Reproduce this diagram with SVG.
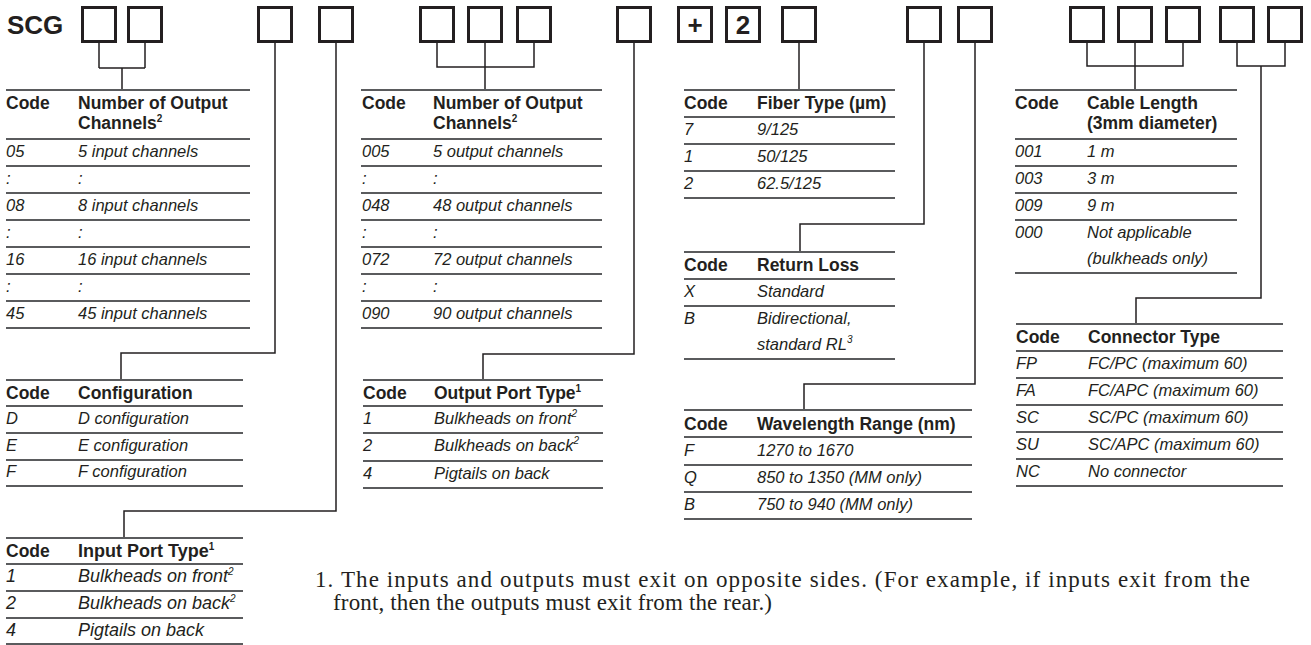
<svg xmlns="http://www.w3.org/2000/svg" width="1311" height="645" viewBox="0 0 1311 645">
<style>
.bx{fill:none;stroke:#231f20;stroke-width:3}
.cn{fill:none;stroke:#231f20;stroke-width:1.5}
.tl{stroke:#5a5b5d;stroke-width:2}
text{font-family:"Liberation Sans",Arial,sans-serif;fill:#231f20}
.h{font-weight:bold;font-size:17.5px}
.b{font-style:italic;font-size:16.5px}
.bl{font-style:italic;font-size:18px}
.hl{font-weight:bold;font-size:18px}
.sup{font-size:10px}
.big{font-weight:bold;font-size:26px}
.fn{font-family:"Liberation Serif","Times New Roman",serif;font-size:23px}
</style>
<rect width="1311" height="645" fill="#fff"/>
<g id="code-boxes">
<text class="big" x="7" y="34">SCG</text>
<rect class="bx" x="82.5" y="7.5" width="33" height="34"/>
<rect class="bx" x="128.5" y="7.5" width="33" height="34"/>
<rect class="bx" x="258.5" y="7.5" width="33" height="34"/>
<rect class="bx" x="319.5" y="7.5" width="33" height="34"/>
<rect class="bx" x="420.5" y="7.5" width="33" height="34"/>
<rect class="bx" x="468.5" y="7.5" width="33" height="34"/>
<rect class="bx" x="517.5" y="7.5" width="33" height="34"/>
<rect class="bx" x="617.5" y="7.5" width="33" height="34"/>
<rect class="bx" x="678.5" y="7.5" width="33" height="34"/>
<text class="big" x="695" y="34" text-anchor="middle">+</text>
<rect class="bx" x="726.5" y="7.5" width="33" height="34"/>
<text class="big" x="743" y="34" text-anchor="middle">2</text>
<rect class="bx" x="782.5" y="7.5" width="33" height="34"/>
<rect class="bx" x="907.5" y="7.5" width="33" height="34"/>
<rect class="bx" x="958.5" y="7.5" width="33" height="34"/>
<rect class="bx" x="1070.5" y="7.5" width="33" height="34"/>
<rect class="bx" x="1118.5" y="7.5" width="33" height="34"/>
<rect class="bx" x="1166.5" y="7.5" width="33" height="34"/>
<rect class="bx" x="1220.5" y="7.5" width="33" height="34"/>
<rect class="bx" x="1268.5" y="7.5" width="33" height="34"/>
</g>
<g id="connectors">
<path class="cn" d="M99,43V68M145,43V68M99,68H145M122,68V90"/>
<path class="cn" d="M275,43V353H121V380"/>
<path class="cn" d="M336,43V511H124V538"/>
<path class="cn" d="M437,43V67H534V43M485,43V90"/>
<path class="cn" d="M634,43V354H483V380"/>
<path class="cn" d="M799,43V90"/>
<path class="cn" d="M924,43V224H800V252"/>
<path class="cn" d="M975,43V384H804V410"/>
<path class="cn" d="M1087,43V66H1183V43M1135,43V90"/>
<path class="cn" d="M1237,43V66H1285V43M1261,66V298H1136V324"/>
</g>
<g id="input-channels">
<path class="tl" d="M6,90H250M6,139H250M6,166H250M6,193H250M6,220H250M6,247H250M6,274H250M6,301H250M6,328H250"/>
<text class="h" x="6" y="109">Code</text>
<text class="h" x="78" y="109">Number of Output</text>
<text class="h" x="78" y="129">Channels<tspan class="sup" dy="-7">2</tspan></text>
<text class="b" x="6" y="157">05</text><text class="b" x="78" y="157">5 input channels</text>
<text class="b" x="6" y="184">:</text><text class="b" x="78" y="184">:</text>
<text class="b" x="6" y="211">08</text><text class="b" x="78" y="211">8 input channels</text>
<text class="b" x="6" y="238">:</text><text class="b" x="78" y="238">:</text>
<text class="b" x="6" y="265">16</text><text class="b" x="78" y="265">16 input channels</text>
<text class="b" x="6" y="292">:</text><text class="b" x="78" y="292">:</text>
<text class="b" x="6" y="319">45</text><text class="b" x="78" y="319">45 input channels</text>
</g>
<g id="output-channels">
<path class="tl" d="M361,90H602M361,139H602M361,166H602M361,193H602M361,220H602M361,247H602M361,274H602M361,301H602M361,328H602"/>
<text class="h" x="362" y="109">Code</text>
<text class="h" x="433" y="109">Number of Output</text>
<text class="h" x="433" y="129">Channels<tspan class="sup" dy="-7">2</tspan></text>
<text class="b" x="362" y="157">005</text><text class="b" x="433" y="157">5 output channels</text>
<text class="b" x="362" y="184">:</text><text class="b" x="433" y="184">:</text>
<text class="b" x="362" y="211">048</text><text class="b" x="433" y="211">48 output channels</text>
<text class="b" x="362" y="238">:</text><text class="b" x="433" y="238">:</text>
<text class="b" x="362" y="265">072</text><text class="b" x="433" y="265">72 output channels</text>
<text class="b" x="362" y="292">:</text><text class="b" x="433" y="292">:</text>
<text class="b" x="362" y="319">090</text><text class="b" x="433" y="319">90 output channels</text>
</g>
<g id="fiber-type">
<path class="tl" d="M684,90H895M684,117H895M684,144H895M684,171H895M684,198H895"/>
<text class="h" x="684" y="109">Code</text>
<text class="h" x="757" y="109">Fiber Type (µm)</text>
<text class="b" x="684" y="135">7</text><text class="b" x="757" y="135">9/125</text>
<text class="b" x="684" y="162">1</text><text class="b" x="757" y="162">50/125</text>
<text class="b" x="684" y="189">2</text><text class="b" x="757" y="189">62.5/125</text>
</g>
<g id="return-loss">
<path class="tl" d="M684,252H895M684,279H895M684,306H895M684,359H895"/>
<text class="h" x="684" y="271">Code</text>
<text class="h" x="757" y="271">Return Loss</text>
<text class="b" x="684" y="297">X</text><text class="b" x="757" y="297">Standard</text>
<text class="b" x="684" y="324">B</text><text class="b" x="757" y="324">Bidirectional,</text>
<text class="b" x="757" y="350">standard RL<tspan class="sup" dy="-7">3</tspan></text>
</g>
<g id="wavelength">
<path class="tl" d="M684,410H972M684,437H972M684,465H972M684,492H972M684,519H972"/>
<text class="h" x="684" y="430">Code</text>
<text class="h" x="757" y="430">Wavelength Range (nm)</text>
<text class="b" x="684" y="456">F</text><text class="b" x="757" y="456">1270 to 1670</text>
<text class="b" x="684" y="483">Q</text><text class="b" x="757" y="483">850 to 1350 (MM only)</text>
<text class="b" x="684" y="510">B</text><text class="b" x="757" y="510">750 to 940 (MM only)</text>
</g>
<g id="cable-length">
<path class="tl" d="M1015,90H1237M1015,139H1237M1015,166H1237M1015,193H1237M1015,220H1237M1015,273H1237"/>
<text class="h" x="1015" y="109">Code</text>
<text class="h" x="1087" y="109">Cable Length</text>
<text class="h" x="1087" y="129">(3mm diameter)</text>
<text class="b" x="1015" y="157">001</text><text class="b" x="1087" y="157">1 m</text>
<text class="b" x="1015" y="184">003</text><text class="b" x="1087" y="184">3 m</text>
<text class="b" x="1015" y="211">009</text><text class="b" x="1087" y="211">9 m</text>
<text class="b" x="1015" y="238">000</text><text class="b" x="1087" y="238">Not applicable</text>
<text class="b" x="1087" y="264">(bulkheads only)</text>
</g>
<g id="connector-type">
<path class="tl" d="M1016,324H1283M1016,351H1283M1016,378H1283M1016,405H1283M1016,432H1283M1016,459H1283M1016,486H1283"/>
<text class="h" x="1016" y="343">Code</text>
<text class="h" x="1088" y="343">Connector Type</text>
<text class="b" x="1016" y="369">FP</text><text class="b" x="1088" y="369">FC/PC (maximum 60)</text>
<text class="b" x="1016" y="396">FA</text><text class="b" x="1088" y="396">FC/APC (maximum 60)</text>
<text class="b" x="1016" y="423">SC</text><text class="b" x="1088" y="423">SC/PC (maximum 60)</text>
<text class="b" x="1016" y="450">SU</text><text class="b" x="1088" y="450">SC/APC (maximum 60)</text>
<text class="b" x="1016" y="477">NC</text><text class="b" x="1088" y="477">No connector</text>
</g>
<g id="configuration">
<path class="tl" d="M6,380H243M6,406H243M6,433H243M6,460H243M6,486H243"/>
<text class="h" x="6" y="399">Code</text>
<text class="h" x="78" y="399">Configuration</text>
<text class="b" x="6" y="424">D</text><text class="b" x="78" y="424">D configuration</text>
<text class="b" x="6" y="451">E</text><text class="b" x="78" y="451">E configuration</text>
<text class="b" x="6" y="477">F</text><text class="b" x="78" y="477">F configuration</text>
</g>
<g id="output-port-type">
<path class="tl" d="M363,380H603M363,406H603M363,433H603M363,461H603M363,488H603"/>
<text class="h" x="363" y="399">Code</text>
<text class="h" x="434" y="399">Output Port Type<tspan class="sup" dy="-7">1</tspan></text>
<text class="b" x="363" y="424">1</text><text class="b" x="434" y="424">Bulkheads on front<tspan class="sup" dy="-7">2</tspan></text>
<text class="b" x="363" y="451">2</text><text class="b" x="434" y="451">Bulkheads on back<tspan class="sup" dy="-7">2</tspan></text>
<text class="b" x="363" y="479">4</text><text class="b" x="434" y="479">Pigtails on back</text>
</g>
<g id="input-port-type">
<path class="tl" d="M6,538H243M6,564H243M6,591H243M6,618H243M6,644H243"/>
<text class="h" x="6" y="557">Code</text>
<text class="hl" x="78" y="557">Input Port Type<tspan class="sup" dy="-7">1</tspan></text>
<text class="bl" x="6" y="582">1</text><text class="bl" x="78" y="582">Bulkheads on front<tspan class="sup" dy="-7">2</tspan></text>
<text class="bl" x="6" y="609">2</text><text class="bl" x="78" y="609">Bulkheads on back<tspan class="sup" dy="-7">2</tspan></text>
<text class="bl" x="6" y="636">4</text><text class="bl" x="78" y="636">Pigtails on back</text>
</g>
<g id="footnote">
<text class="fn" x="315" y="587" textLength="935" lengthAdjust="spacing">1. The inputs and outputs must exit on opposite sides. (For example, if inputs exit from the</text>
<text class="fn" x="333" y="610" textLength="439" lengthAdjust="spacing">front, then the outputs must exit from the rear.)</text>
</g>
</svg>
